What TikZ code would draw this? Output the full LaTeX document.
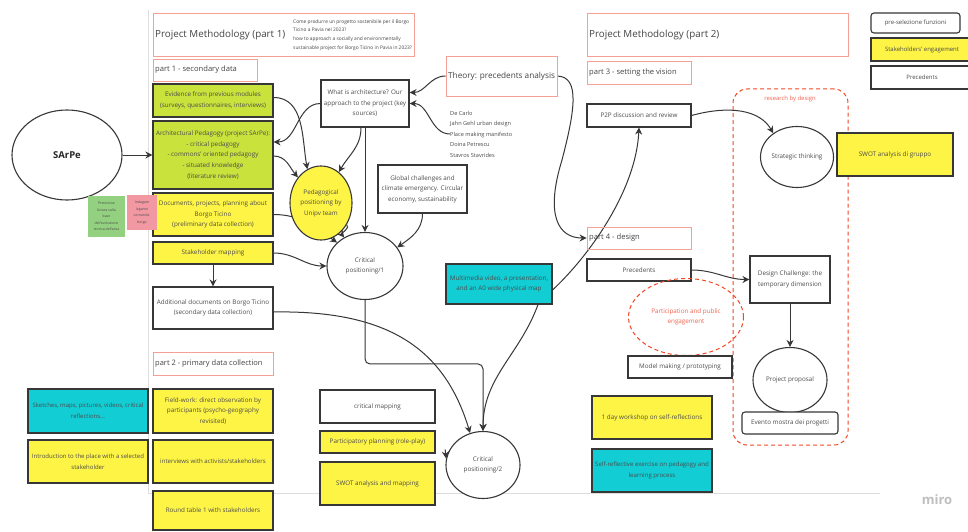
\documentclass[tikz,border=0pt]{standalone}
\usepackage{fontspec}
\setmainfont{Open Sans}
\usetikzlibrary{shapes.geometric,arrows.meta,calc,backgrounds}

\definecolor{bord}{RGB}{55,55,55}
\definecolor{txt}{RGB}{75,75,75}
\definecolor{limec}{RGB}{201,226,60}
\definecolor{yelc}{RGB}{254,244,69}
\definecolor{cyanc}{RGB}{18,205,212}
\definecolor{salm}{RGB}{244,160,148}
\definecolor{redd}{RGB}{242,71,38}
\definecolor{redt}{RGB}{240,100,80}
\definecolor{stickg}{RGB}{147,208,127}
\definecolor{stickp}{RGB}{241,152,163}
\definecolor{frameg}{RGB}{222,222,222}

\newcommand\fs[2]{\fontsize{#1}{#2}\selectfont}
\newcommand\mybox[7]{\node[#6, minimum width={(#4)-(#2)}, minimum height={(#5)-(#3)}] (#1) at ({((#2)+(#4))/2},{((#3)+(#5))/2}) {#7};}

\tikzset{
  bx/.style={draw=bord, line width=1.1pt, fill=white, align=center, text=txt, font=\fs{6.3}{10.6}, inner sep=1pt},
  limebx/.style={bx, fill=limec},
  yelbx/.style={bx, fill=yelc},
  cyanbx/.style={bx, fill=cyanc},
  ttl/.style={draw=salm, line width=0.9pt, inner sep=0pt},
  ttltxt/.style={anchor=west, text=txt!90!black, inner sep=0pt},
  ell/.style={ellipse, draw=bord, line width=1.1pt, fill=white, align=center, text=txt, font=\fs{6.3}{10.6}, inner sep=0pt},
  arr/.style={-{Stealth[length=7pt,width=7pt]}, draw=bord, line width=1pt},
  reddash/.style={draw=redd, line width=1pt, dash pattern=on 4pt off 3pt},
  sticky/.style={align=center, font=\fs{3.5}{6.6}, text=txt, inner sep=0pt},
}

\begin{document}
\begin{tikzpicture}[x=1pt,y=-1pt]
\useasboundingbox (0,0) rectangle (968,532);

% ---------- titles (part 1) ----------
\mybox{t1}{153}{13}{414}{56}{ttl}{}
\node[ttltxt, font=\fs{9.8}{11}] (t1a) at (155,35) {Project Methodology (part 1)};
\node[ttltxt, align=left, font=\fs{4.85}{8.7}] (t1b) at (293,35) {Come produrre un progetto sostenibile per il Borgo\\Ticino a Pavia nel 2023?\\how to approach a socially and environmentally\\sustainable project for Borgo Ticino in Pavia in 2023?};
\mybox{p1}{153}{59}{257}{81}{ttl}{}
\node[ttltxt, font=\fs{7.6}{9}] (p1t) at (155,70) {part 1 - secondary data};

% ---------- left column ----------
\node[ell, minimum width=110, minimum height=90, font=\bfseries\fs{9.5}{11}, text=black!85] (sarpe) at (67,155) {SArPe};
\mybox{evid}{153}{84}{273}{117}{limebx}{Evidence from previous modules\\(surveys, questionnaires, interviews)}
\mybox{archped}{153}{121}{273}{189}{limebx}{Architectural Pedagogy (project SArPe):\\- critical pedagogy\\- commons' oriented pedagogy\\- situated knowledge\\(literature review)}
\mybox{docs}{153}{193}{273}{236}{yelbx}{Documents, projects, planning about\\Borgo Ticino\\(preliminary data collection)}
\mybox{stake}{153}{242}{273}{264}{yelbx}{Stakeholder mapping}
\mybox{addl}{153}{287}{273}{329}{bx}{Additional documents on Borgo Ticino\\(secondary data collection)}
\mybox{stg}{88}{196}{125}{237}{sticky, fill=stickg}{Previsione\\futura sulla\\base\\dell'evoluzione\\storica dell'area}
\mybox{stp}{127}{195}{157}{230}{sticky, fill=stickp}{Indagare\\legame\\comunità-\\borgo}

\mybox{p2}{153}{352}{273}{375}{ttl}{}
\node[ttltxt, font=\fs{7.5}{9}] (p2t) at (155,363.5) {part 2 - primary data collection};
\mybox{field}{153}{389}{273}{433}{yelbx}{Field-work: direct observation by\\participants (psycho-geography\\revisited)}
\mybox{interv}{153}{440}{273}{483}{yelbx, font=\fs{6.1}{10.6}}{interviews with activists/stakeholders}
\mybox{round}{153}{491}{273}{530}{yelbx}{Round table 1 with stakeholders}
\mybox{sketch}{28}{389}{148}{433}{cyanbx, font=\fs{6.0}{10.6}}{Sketches, maps, pictures, videos, critical\\reflections...}
\mybox{intro}{28}{440}{148}{483}{yelbx, font=\fs{6.0}{10.6}}{Introduction to the place with a selected\\stakeholder}

% ---------- middle ----------
\mybox{whatarch}{321}{80}{409}{127}{bx}{What is architecture? Our\\approach to the project (key\\sources)}
\mybox{theory}{446}{56}{557}{96}{ttl}{}
\node[ttltxt, font=\fs{8.2}{9}] (theoryt) at (448,76) {Theory: precedents analysis};
\node[anchor=west, align=left, text=txt, font=\fs{5.6}{10.5}, inner sep=0pt] (refs) at (450,134) {De Carlo\\Jahn Gehl urban design\\Place making manifesto\\Doina Petrescu\\Stavros Stavrides};
\mybox{global}{378}{165}{467}{213}{bx}{Global challenges and\\climate emergency. Circular\\economy, sustainability}
\node[ell, fill=yelc, minimum width=62, minimum height=74] (pedag) at (321,203) {Pedagogical\\positioning by\\Unipv team};
\node[ell, minimum width=76, minimum height=67] (cp1) at (365,266) {Critical\\positioning/1};
\mybox{multi}{446}{264}{552}{304}{cyanbx}{Multimedia video, a presentation,\\and an A0 wide physical map}
\node[ell, minimum width=74, minimum height=67] (cp2) at (483,465) {Critical\\positioning/2};
\mybox{cmap}{320}{390}{435}{423}{bx}{critical mapping}
\mybox{partic}{320}{431}{435}{453}{yelbx}{Participatory planning (role-play)}
\mybox{swot}{320}{462}{435}{505}{yelbx}{SWOT analysis and mapping}
\mybox{work}{592}{396}{712}{439}{yelbx}{1 day workshop on self-reflections}
\mybox{selfr}{592}{449}{712}{492}{cyanbx, font=\fs{6.1}{10.6}}{Self-reflective exercise on pedagogy and\\learning process}

% ---------- right ----------
\mybox{t2}{587}{13}{848}{56}{ttl}{}
\node[ttltxt, font=\fs{9.8}{11}] (t2a) at (589,35) {Project Methodology (part 2)};
\mybox{p3}{587}{61}{691}{84}{ttl}{}
\node[ttltxt, font=\fs{7.6}{9}] (p3t) at (589,72.5) {part 3 - setting the vision};
\mybox{p2p}{587}{104}{691}{127}{bx}{P2P discussion and review}
\mybox{leg1}{871}{13}{960}{33}{bx, rounded corners=3pt, font=\fs{6}{8}}{pre-selezione funzioni}
\mybox{leg2}{871}{38}{973}{61}{yelbx, font=\fs{6}{8}}{Stakeholders' engagement}
\mybox{leg3}{871}{66}{973}{89}{bx, font=\fs{6}{8}}{Precedents}

\node[reddash, rounded corners=14pt, minimum width=115, minimum height=356] (rbd) at (790.5,267) {};
\node[text=redt, font=\fs{5.9}{8}, inner sep=0pt] (rbdt) at (790,99) {research by design};
\node[ell, minimum width=73, minimum height=61] (strat) at (797,157) {Strategic thinking};
\mybox{swotg}{837}{133}{953}{176}{yelbx}{SWOT analysis di gruppo}

\mybox{p4}{587}{227}{691}{249}{ttl}{}
\node[ttltxt, font=\fs{7.6}{9}] (p4t) at (589,238) {part 4 - design};
\mybox{prec}{587}{259}{691}{281}{bx}{Precedents}
\node[ellipse, reddash, align=center, text=redt, font=\fs{6.3}{10.6}, inner sep=0pt, minimum width=115, minimum height=77] (pape) at (686,317) {Participation and public\\engagement};
\mybox{model}{628}{356}{732}{378}{bx}{Model making / prototyping}
\mybox{dchal}{750}{256}{830}{303}{bx}{Design Challenge: the\\temporary dimension}
\node[ell, minimum width=74, minimum height=65] (prop) at (790,380) {Project proposal};
\mybox{evento}{742}{412}{838}{434}{bx, rounded corners=3pt}{Evento mostra dei progetti}

\node[text=black!25, font=\bfseries\fs{13}{14}, inner sep=0pt] (miro) at (937,500) {miro};

% ---------- connectors (behind the nodes) ----------
\begin{scope}[on background layer]
\fill[white] (0,0) rectangle (968,532);
\draw[frameg, line width=0.7pt] (148,10) -- (148,493) -- (880,493);

\draw[arr] (sarpe.east) -- (archped.west);
\draw[arr] ($(evid.east)+(0,-3)$) to[out=0,in=100] (pedag.112);
\draw[arr] ($(archped.east)+(0,1)$) to[out=0,in=130] (pedag.132);
\draw[arr] (whatarch.west) to[out=180,in=0] ($(archped.east)+(0,-13)$);
\draw[arr] ($(whatarch.south)+(-4,0)$) to[out=-90,in=60] (pedag.60);
\draw[arr] (whatarch.south) -- (cp1.north);
\draw[arr] (theory.west) to[out=180,in=0] ($(whatarch.east)+(0,-11)$);
\draw[arr] (refs.west) to[out=180,in=0] (whatarch.east);
\draw[arr] (docs.east) to[out=0,in=145] (cp1.140);
\draw[arr] (pedag.-40) to[out=-40,in=130] (cp1.126);
\draw[arr] (stake.east) to[out=0,in=180] (cp1.west);
\draw[arr] (stake.south) -- (addl.north);
\draw[arr] (global.south) to[out=-90,in=35] (cp1.30);
\draw[arr] ($(addl.east)+(0,4)$) .. controls (390,310) and (445,350) .. (cp2.112);
\draw[arr, rounded corners=5pt] (cp1.south) |- ($(cp2.north)+(0,-67)$) -- (cp2.north);
\draw[arr] ($(multi.south)+(39,0)$) to[out=-110,in=90] (cp2.north);
\draw[arr] ($(cp2.170)+(-1,-9)$) -- (cp2.170);
\draw[arr] ($(multi.east)+(0,6)$) .. controls (590,255) and (636,190) .. (p2p.south);
\draw[arr] (theory.east) .. controls (580,77) and (575,110) .. (562,160) .. controls (545,215) and (558,238) .. (p4.west);
\draw[arr] (p2p.east) .. controls (730,105) and (760,110) .. (strat.135);
\draw[arr] (prec.east) to[out=0,in=180] (dchal.west);
\draw[arr] (dchal.south) -- (prop.north);
\end{scope}
\end{tikzpicture}
\end{document}
